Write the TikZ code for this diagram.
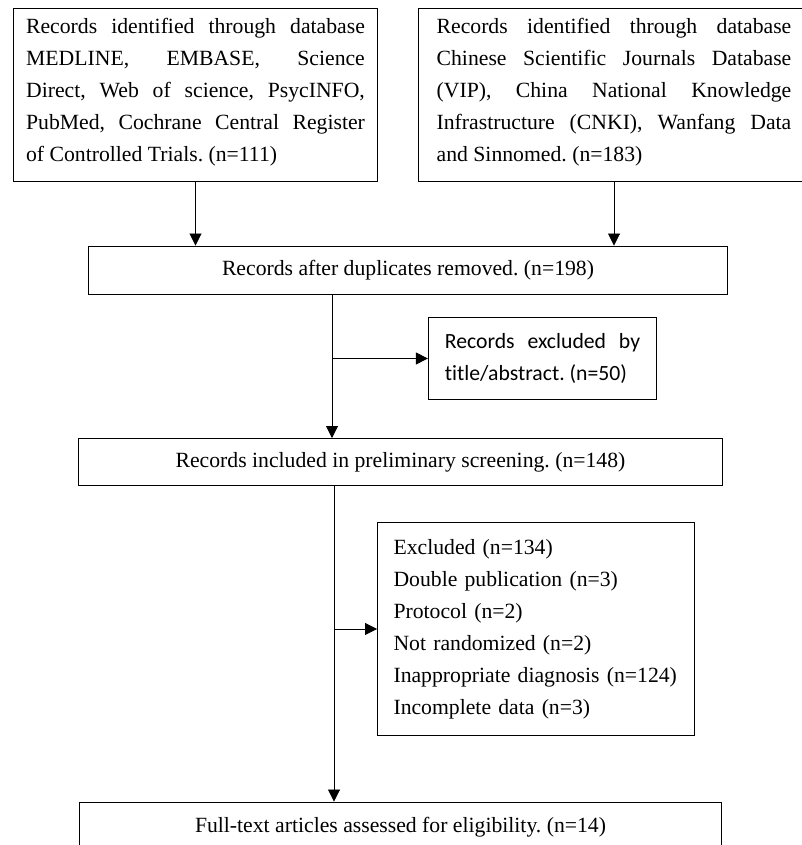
\documentclass[tikz,border=0pt]{standalone}
\usepackage{fontspec}
\setmainfont[Ligatures={NoCommon}]{Liberation Serif}
\newfontfamily\calfont[Ligatures={NoCommon}]{Carlito}
\usepackage{tikz}
\usetikzlibrary{arrows.meta,calc}
\newcommand\flowfont{\fontsize{21.7bp}{32bp}\selectfont\frenchspacing}

\begin{document}
\begin{tikzpicture}[x=1bp,y=1bp,
    box/.style={draw,line width=1.1bp,inner sep=0pt,font=\flowfont},
    arr/.style={line width=0.9bp,-{Triangle[length=12bp,width=12bp]}}]
    \useasboundingbox (0,0) rectangle (802,845);
    \fill[white] (0,0) rectangle (802,845);
    \clip (0,0) rectangle (802,845);

    % Searches
    \node[box,minimum width=365,minimum height=174,text width=340,align=justify] (dbEng) at (195.5,750)
        {Records identified through database\linebreak MEDLINE, EMBASE, Science\linebreak Direct, Web of science, PsycINFO,\linebreak PubMed, Cochrane Central Register\linebreak of Controlled Trials. (n=111)\vspace{6bp}};
    \node[box,minimum width=392,minimum height=174,text width=356,align=justify] (dbChn) at (614,750)
        {Records identified through database\linebreak Chinese Scientific Journals Database\linebreak (VIP), China National Knowledge\linebreak Infrastructure (CNKI), Wanfang Data\linebreak and Sinnomed. (n=183)\vspace{6bp}};

    % Duplicates
    \node[box,minimum width=642,minimum height=49] (dedup) at (408,574.5) {Records after duplicates removed. (n=198)};
    \node[box,minimum width=229,minimum height=83,text width=196,align=justify,font=\flowfont\calfont] (exTitle) at (542.5,486.5)
        {Records excluded by\linebreak title/abstract. (n=50)};

    % Screening
    \node[box,minimum width=647,minimum height=47] (screen) at (400.5,383) {Records included in preliminary screening. (n=148)};
    \node[box,minimum width=318,minimum height=214,text width=286,align=left] (exFull) at (536,216)
        {Excluded (n=134)\\ Double publication (n=3)\\ Protocol (n=2)\\ Not randomized (n=2)\\ Inappropriate diagnosis (n=124)\\ Incomplete data (n=3)};

    % Eligibility
    \node[box,minimum width=645,minimum height=50] (fulltext) at (400.5,18) {Full-text articles assessed for eligibility. (n=14)};

    \coordinate (t1) at (332,0);
    \coordinate (t2) at (334,0);

    \draw[arr] (dbEng.south) -- (dbEng.south |- dedup.north);
    \draw[arr] (dbChn.south) -- (dbChn.south |- dedup.north);
    \draw[arr] (dedup.south -| t1) -- (screen.north -| t1);
    \draw[arr] (exTitle.west -| t1) -- (exTitle.west);
    \draw[arr] (screen.south -| t2) -- (fulltext.north -| t2);
    \draw[arr] (exFull.west -| t2) -- (exFull.west);
\end{tikzpicture}
\end{document}
